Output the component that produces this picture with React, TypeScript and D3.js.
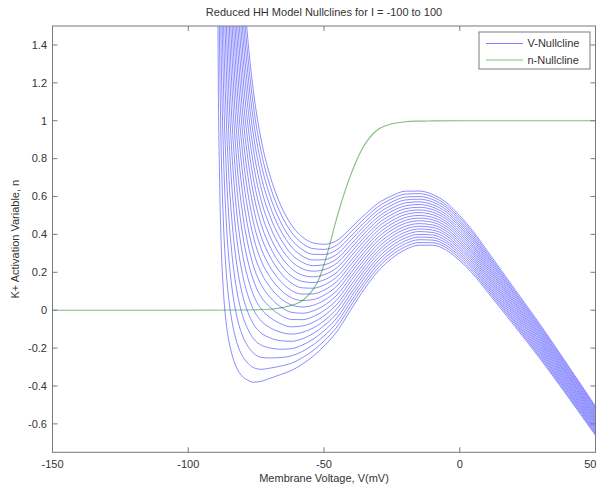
import React from 'react';
import * as d3 from 'd3';

// Membrane voltage sample points (mV) for the V-nullcline family
const voltages = [-89.5, -89, -88.5, -88, -87, -86, -85, -84, -83, -82, -80, -78, -76, -73, -70, -66, -62, -58, -54, -50, -45, -40, -35, -30, -25, -20, -15, -10, -5, 0, 5, 10, 20, 30, 40, 50];

// Injected currents, one V-nullcline per current
const currents = [-100, -90, -80, -70, -60, -50, -40, -30, -20, -10, 0, 10, 20, 30, 40, 50, 60, 70, 80, 90, 100];

// n values of each V-nullcline at the voltages above
const vNullclines: number[][] = [
  [3.29, 1.37, 0.73, 0.41, 0.09, -0.07, -0.165, -0.229, -0.275, -0.309, -0.35, -0.37, -0.38, -0.375, -0.36, -0.34, -0.318, -0.285, -0.243, -0.19, -0.108, 0.005, 0.114, 0.207, 0.274, 0.32, 0.343, 0.343, 0.317, 0.261, 0.189, 0.1, -0.08, -0.264, -0.46, -0.661],
  [5.44, 2.45, 1.45, 0.95, 0.45, 0.2, 0.05, -0.05, -0.121, -0.175, -0.243, -0.28, -0.303, -0.312, -0.306, -0.295, -0.28, -0.251, -0.213, -0.163, -0.084, 0.027, 0.134, 0.225, 0.291, 0.335, 0.357, 0.356, 0.33, 0.273, 0.2, 0.111, -0.07, -0.255, -0.452, -0.653],
  [7.59, 3.52, 2.16, 1.49, 0.81, 0.47, 0.265, 0.129, 0.032, -0.04, -0.135, -0.191, -0.226, -0.249, -0.252, -0.25, -0.241, -0.218, -0.183, -0.136, -0.06, 0.048, 0.153, 0.243, 0.307, 0.351, 0.372, 0.37, 0.342, 0.285, 0.212, 0.122, -0.06, -0.246, -0.443, -0.646],
  [9.74, 4.6, 2.88, 2.02, 1.17, 0.74, 0.48, 0.309, 0.186, 0.094, -0.028, -0.101, -0.15, -0.185, -0.199, -0.206, -0.203, -0.184, -0.153, -0.109, -0.036, 0.07, 0.173, 0.261, 0.324, 0.366, 0.386, 0.383, 0.355, 0.297, 0.223, 0.132, -0.051, -0.237, -0.435, -0.638],
  [11.89, 5.67, 3.6, 2.56, 1.52, 1.01, 0.695, 0.488, 0.339, 0.229, 0.08, -0.012, -0.073, -0.122, -0.145, -0.161, -0.164, -0.151, -0.123, -0.082, -0.012, 0.091, 0.192, 0.279, 0.34, 0.382, 0.4, 0.397, 0.367, 0.309, 0.234, 0.143, -0.041, -0.228, -0.427, -0.63],
  [14.04, 6.75, 4.31, 3.1, 1.88, 1.28, 0.91, 0.667, 0.493, 0.363, 0.188, 0.078, 0.004, -0.059, -0.091, -0.116, -0.126, -0.117, -0.094, -0.056, 0.012, 0.113, 0.212, 0.297, 0.357, 0.397, 0.415, 0.41, 0.38, 0.321, 0.246, 0.154, -0.031, -0.219, -0.419, -0.623],
  [16.19, 7.82, 5.03, 3.64, 2.24, 1.54, 1.125, 0.846, 0.647, 0.497, 0.295, 0.168, 0.081, 0.004, -0.037, -0.071, -0.088, -0.083, -0.064, -0.029, 0.035, 0.134, 0.231, 0.314, 0.373, 0.412, 0.429, 0.423, 0.393, 0.332, 0.257, 0.165, -0.021, -0.21, -0.41, -0.615],
  [18.34, 8.9, 5.75, 4.17, 2.6, 1.81, 1.34, 1.025, 0.8, 0.632, 0.403, 0.257, 0.158, 0.067, 0.017, -0.026, -0.049, -0.05, -0.034, -0.002, 0.059, 0.156, 0.251, 0.332, 0.39, 0.428, 0.443, 0.437, 0.405, 0.344, 0.268, 0.176, -0.011, -0.201, -0.402, -0.607],
  [20.49, 9.97, 6.46, 4.71, 2.96, 2.08, 1.555, 1.205, 0.954, 0.766, 0.51, 0.347, 0.234, 0.131, 0.07, 0.018, -0.011, -0.016, -0.004, 0.025, 0.083, 0.177, 0.27, 0.35, 0.406, 0.443, 0.457, 0.45, 0.418, 0.356, 0.279, 0.186, -0.002, -0.192, -0.394, -0.599],
  [22.64, 11.05, 7.18, 5.25, 3.32, 2.35, 1.77, 1.384, 1.107, 0.901, 0.618, 0.436, 0.311, 0.194, 0.124, 0.063, 0.028, 0.017, 0.026, 0.052, 0.107, 0.199, 0.29, 0.368, 0.423, 0.459, 0.472, 0.464, 0.43, 0.368, 0.291, 0.197, 0.008, -0.183, -0.385, -0.592],
  [24.79, 12.12, 7.9, 5.79, 3.67, 2.62, 1.985, 1.563, 1.261, 1.035, 0.725, 0.526, 0.388, 0.257, 0.178, 0.108, 0.066, 0.051, 0.056, 0.079, 0.131, 0.22, 0.309, 0.386, 0.439, 0.474, 0.486, 0.477, 0.443, 0.38, 0.302, 0.208, 0.018, -0.174, -0.377, -0.584],
  [26.94, 13.2, 8.61, 6.32, 4.03, 2.89, 2.2, 1.742, 1.415, 1.169, 0.833, 0.616, 0.465, 0.32, 0.232, 0.153, 0.104, 0.085, 0.086, 0.106, 0.155, 0.242, 0.329, 0.404, 0.456, 0.489, 0.5, 0.49, 0.456, 0.392, 0.313, 0.219, 0.028, -0.165, -0.369, -0.576],
  [29.09, 14.27, 9.33, 6.86, 4.39, 3.16, 2.415, 1.921, 1.568, 1.304, 0.94, 0.705, 0.542, 0.383, 0.286, 0.198, 0.143, 0.118, 0.116, 0.133, 0.179, 0.263, 0.348, 0.422, 0.472, 0.505, 0.515, 0.504, 0.468, 0.404, 0.325, 0.23, 0.038, -0.156, -0.36, -0.569],
  [31.24, 15.35, 10.05, 7.4, 4.75, 3.43, 2.63, 2.101, 1.722, 1.438, 1.048, 0.795, 0.618, 0.447, 0.339, 0.242, 0.181, 0.152, 0.146, 0.16, 0.203, 0.285, 0.368, 0.44, 0.489, 0.52, 0.529, 0.517, 0.481, 0.416, 0.336, 0.24, 0.047, -0.147, -0.352, -0.561],
  [33.39, 16.42, 10.76, 7.94, 5.11, 3.69, 2.845, 2.28, 1.875, 1.573, 1.155, 0.884, 0.695, 0.51, 0.393, 0.287, 0.22, 0.185, 0.176, 0.187, 0.227, 0.306, 0.387, 0.458, 0.505, 0.536, 0.543, 0.531, 0.493, 0.428, 0.347, 0.251, 0.057, -0.138, -0.344, -0.553],
  [35.54, 17.5, 11.48, 8.47, 5.47, 3.96, 3.06, 2.459, 2.029, 1.707, 1.263, 0.974, 0.772, 0.573, 0.447, 0.332, 0.258, 0.219, 0.206, 0.214, 0.251, 0.328, 0.407, 0.476, 0.522, 0.551, 0.558, 0.544, 0.506, 0.44, 0.359, 0.262, 0.067, -0.129, -0.336, -0.546],
  [37.69, 18.57, 12.2, 9.01, 5.82, 4.23, 3.275, 2.638, 2.183, 1.841, 1.37, 1.064, 0.849, 0.636, 0.501, 0.377, 0.296, 0.253, 0.235, 0.24, 0.274, 0.349, 0.426, 0.493, 0.538, 0.566, 0.572, 0.557, 0.519, 0.451, 0.37, 0.273, 0.077, -0.12, -0.327, -0.538],
  [39.84, 19.65, 12.91, 9.55, 6.18, 4.5, 3.49, 2.817, 2.336, 1.976, 1.478, 1.153, 0.926, 0.699, 0.555, 0.422, 0.335, 0.286, 0.265, 0.267, 0.298, 0.371, 0.446, 0.511, 0.555, 0.582, 0.586, 0.571, 0.531, 0.463, 0.381, 0.284, 0.087, -0.111, -0.319, -0.53],
  [41.99, 20.72, 13.63, 10.09, 6.54, 4.77, 3.705, 2.997, 2.49, 2.11, 1.585, 1.243, 1.002, 0.763, 0.608, 0.466, 0.373, 0.32, 0.295, 0.294, 0.322, 0.392, 0.465, 0.529, 0.571, 0.597, 0.6, 0.584, 0.544, 0.475, 0.392, 0.294, 0.096, -0.102, -0.311, -0.522],
  [44.14, 21.8, 14.35, 10.62, 6.9, 5.04, 3.92, 3.176, 2.643, 2.245, 1.693, 1.332, 1.079, 0.826, 0.662, 0.511, 0.412, 0.353, 0.325, 0.321, 0.346, 0.414, 0.485, 0.547, 0.588, 0.613, 0.615, 0.598, 0.556, 0.487, 0.404, 0.305, 0.106, -0.093, -0.302, -0.515],
  [46.29, 22.87, 15.06, 11.16, 7.26, 5.31, 4.135, 3.355, 2.797, 2.379, 1.8, 1.422, 1.156, 0.889, 0.716, 0.556, 0.45, 0.387, 0.355, 0.348, 0.37, 0.435, 0.504, 0.565, 0.604, 0.628, 0.629, 0.611, 0.569, 0.499, 0.415, 0.316, 0.116, -0.084, -0.294, -0.507],
];

// n-nullcline (steady-state K+ activation)
const nVoltages = [-150, -100, -80, -70, -65, -60, -58, -56, -54, -52, -50, -48, -46, -44, -42, -40, -38, -36, -34, -32, -30, -27, -24, -20, -15, -10, 0, 50];
const nInf = [0, 0, 0.001, 0.005, 0.015, 0.035, 0.05, 0.075, 0.11, 0.16, 0.24, 0.34, 0.45, 0.55, 0.64, 0.72, 0.79, 0.85, 0.895, 0.93, 0.955, 0.975, 0.987, 0.995, 0.998, 0.999, 1, 1];

const xTicks = [-150, -100, -50, 0, 50];
const xTickLabels = ['-150', '-100', '-50', '0', '50'];
const yTicks = [-0.6, -0.4, -0.2, 0, 0.2, 0.4, 0.6, 0.8, 1, 1.2, 1.4];
const yTickLabels = ['-0.6', '-0.4', '-0.2', '0', '0.2', '0.4', '0.6', '0.8', '1', '1.2', '1.4'];

const legendLabels = ['V-Nullcline', 'n-Nullcline'];

const FONT = '"Liberation Sans", Arial, Helvetica, sans-serif';
const BLUE = '#0000ff';
const GREEN = '#008000';
const AXIS = '#7a7a7a';
const TEXT = '#333333';

export default function App() {
  const left = 52.5, right = 595.5, top = 26, bottom = 452.3;
  const x = d3.scaleLinear().domain([-150, 50]).range([left, right]);
  const y = d3.scaleLinear().domain([-0.75, 1.5]).range([bottom, top]);

  const vLine = d3
    .line<number>()
    .x((_, i) => x(voltages[i]))
    .y((d) => y(d))
    .curve(d3.curveMonotoneX);

  const nLine = d3
    .line<number>()
    .x((_, i) => x(nVoltages[i]))
    .y((d) => y(d))
    .curve(d3.curveMonotoneX);

  const tickLen = 5;

  return (
    <svg
      width={597}
      height={490}
      style={{ position: 'absolute', left: 0, top: 0, background: '#fff' }}
      fontFamily={FONT}
    >
      <defs>
        <clipPath id="plotClip">
          <rect x={left} y={top} width={right - left} height={bottom - top} />
        </clipPath>
      </defs>
      <rect x={0} y={0} width={597} height={490} fill="#fff" />

      <g clipPath="url(#plotClip)">
        {vNullclines.map((row, k) => (
          <path
            key={currents[k]}
            d={vLine(row) || ''}
            fill="none"
            stroke={BLUE}
            strokeOpacity={0.45}
            strokeWidth={1}
          />
        ))}
        <path d={nLine(nInf) || ''} fill="none" stroke={GREEN} strokeOpacity={0.5} strokeWidth={1.1} />
      </g>

      {/* axes box */}
      <rect x={left} y={top} width={right - left} height={bottom - top} fill="none" stroke={AXIS} strokeWidth={1} />

      {/* x ticks */}
      {xTicks.map((t, i) => {
        const last = i === xTicks.length - 1;
        return (
          <g key={'x' + t}>
            <line x1={x(t)} x2={x(t)} y1={bottom} y2={bottom - tickLen} stroke={AXIS} />
            <line x1={x(t)} x2={x(t)} y1={top} y2={top + tickLen} stroke={AXIS} />
            <text
              x={last ? 596.5 : x(t)}
              y={468}
              textAnchor={last ? 'end' : 'middle'}
              fontSize={11}
              fill={TEXT}
            >
              {xTickLabels[i]}
            </text>
          </g>
        );
      })}

      {/* y ticks */}
      {yTicks.map((t, i) => (
        <g key={'y' + t}>
          <line x1={left} x2={left + tickLen} y1={y(t)} y2={y(t)} stroke={AXIS} />
          <line x1={right} x2={right - tickLen} y1={y(t)} y2={y(t)} stroke={AXIS} />
          <text x={47} y={y(t)} dy="0.35em" textAnchor="end" fontSize={11} fill={TEXT}>
            {yTickLabels[i]}
          </text>
        </g>
      ))}

      {/* title and axis labels */}
      <text x={(left + right) / 2} y={16} textAnchor="middle" fontSize={11} fill={TEXT}>
        Reduced HH Model Nullclines for I = -100 to 100
      </text>
      <text x={(left + right) / 2} y={482} textAnchor="middle" fontSize={11} fill={TEXT}>
        Membrane Voltage, V(mV)
      </text>
      <text
        transform={`translate(19, ${(top + bottom) / 2}) rotate(-90)`}
        textAnchor="middle"
        fontSize={11}
        fill={TEXT}
      >
        K+ Activation Variable, n
      </text>

      {/* legend */}
      <g>
        <rect x={479} y={32} width={111} height={37} fill="#fff" stroke={AXIS} strokeWidth={1} />
        {legendLabels.map((lab, i) => (
          <g key={lab}>
            <line
              x1={486}
              x2={523}
              y1={43.5 + i * 16.5}
              y2={43.5 + i * 16.5}
              stroke={i === 0 ? BLUE : GREEN}
              strokeOpacity={0.5}
              strokeWidth={1.1}
            />
            <text x={527.5} y={43.5 + i * 16.5} dy="0.35em" fontSize={11} fill={TEXT}>
              {lab}
            </text>
          </g>
        ))}
      </g>
    </svg>
  );
}
